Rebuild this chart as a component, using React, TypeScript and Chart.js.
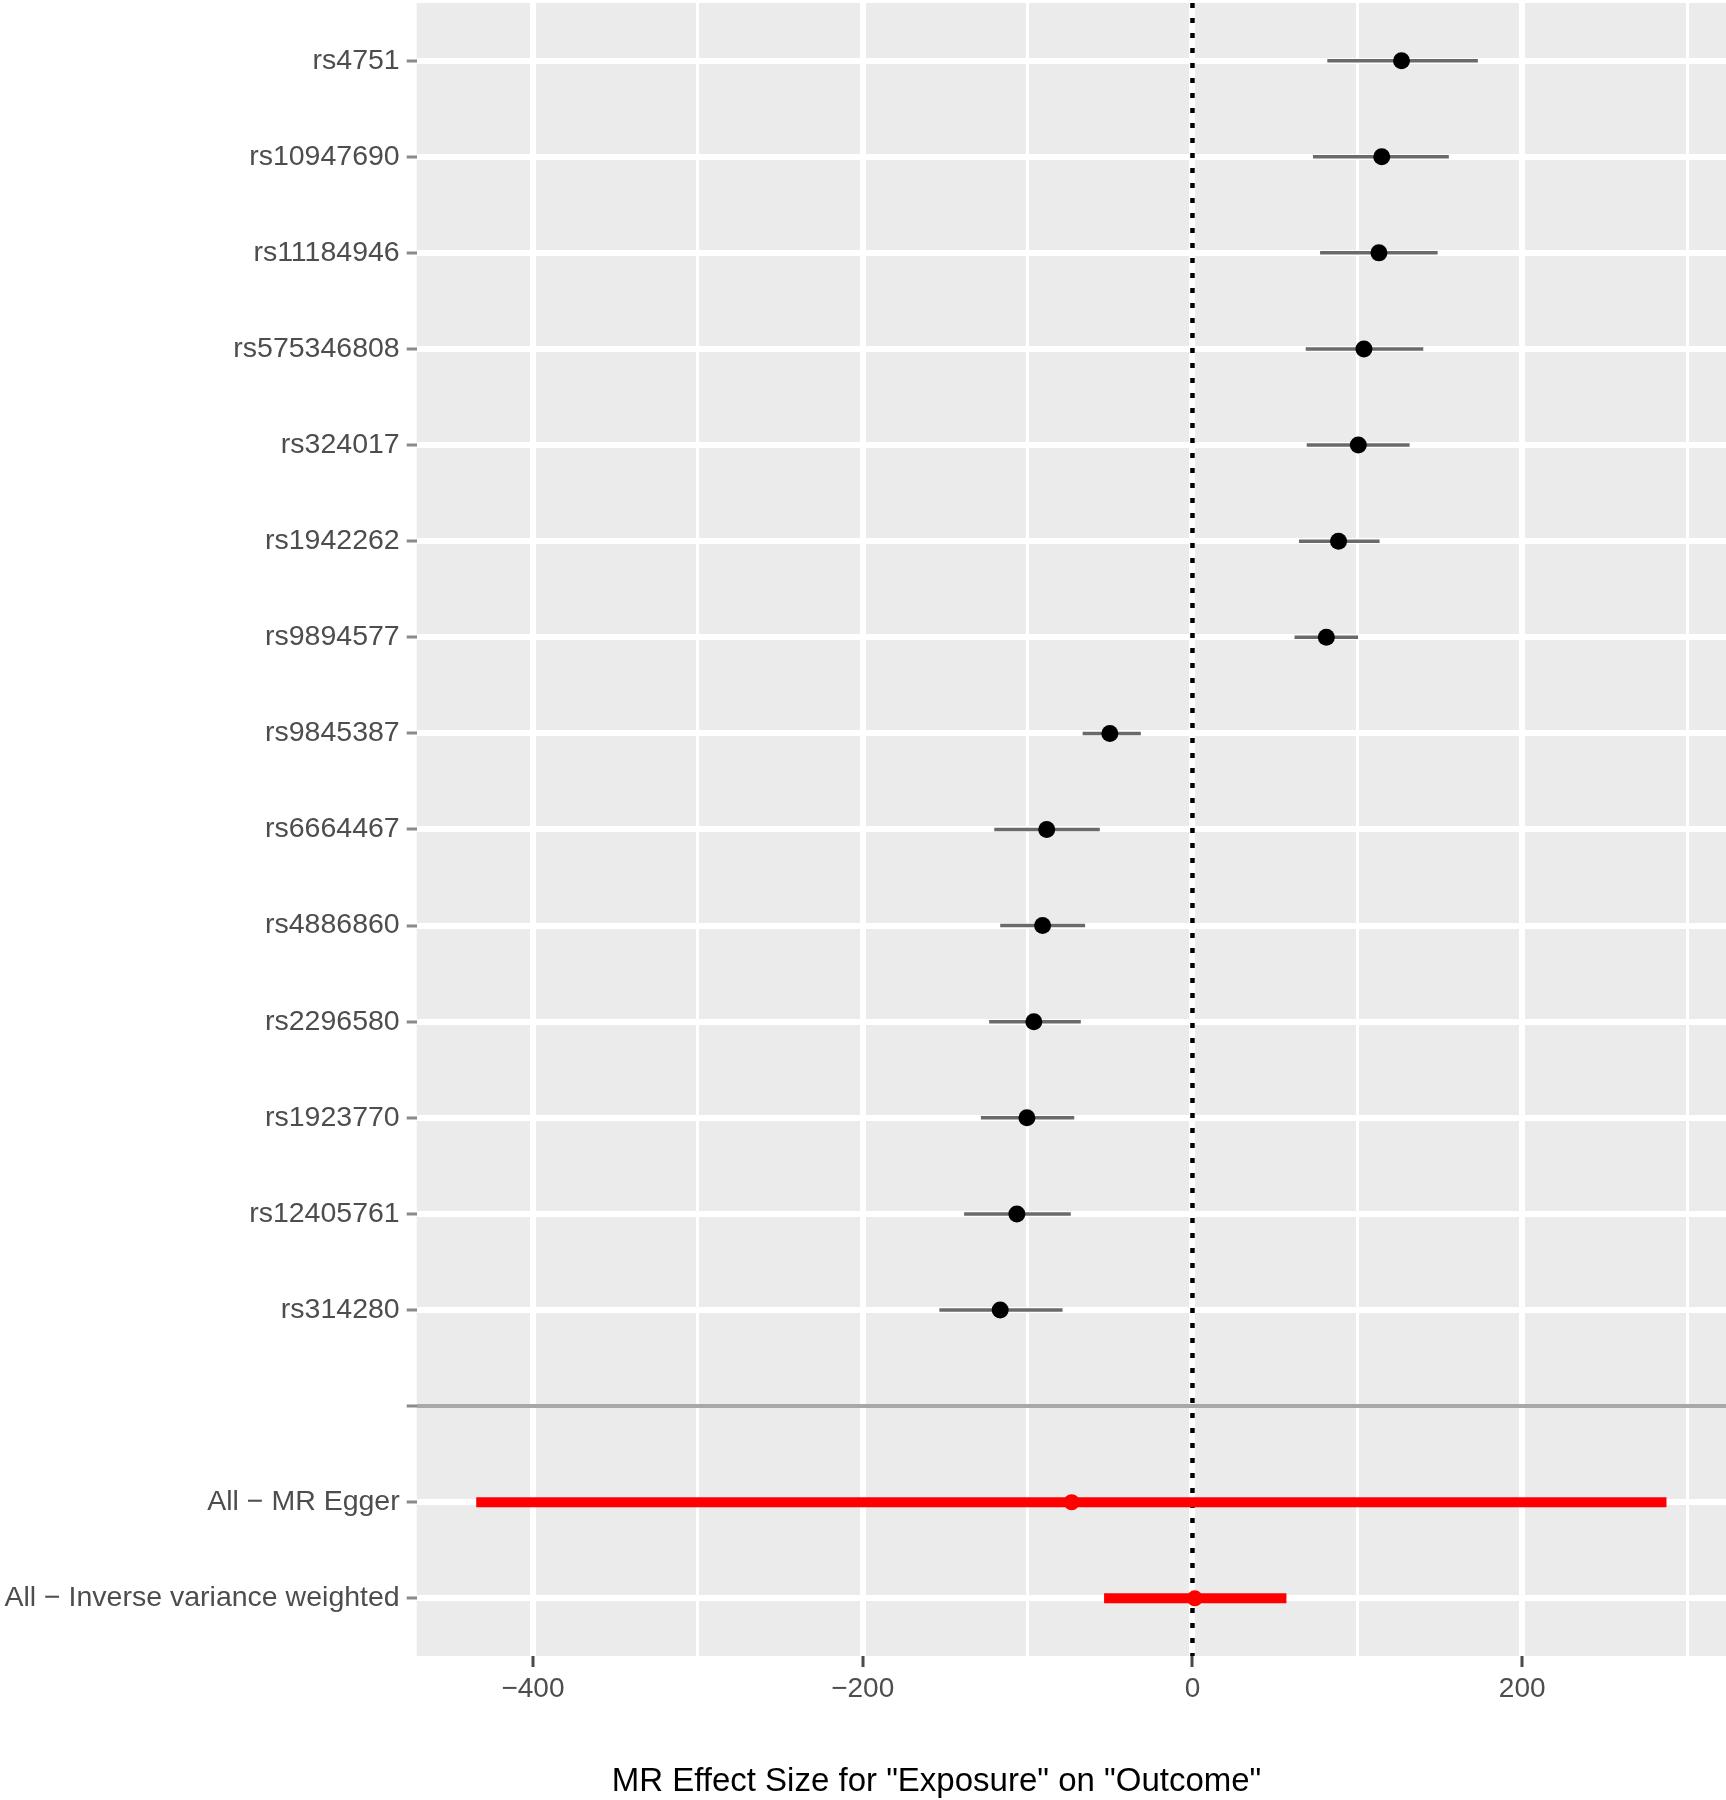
import React, { useEffect, useRef } from "react";
import { Chart, registerables } from "chart.js";

Chart.register(...registerables);

// ---- data ----
const snpNames = [
  "rs4751",
  "rs10947690",
  "rs11184946",
  "rs575346808",
  "rs324017",
  "rs1942262",
  "rs9894577",
  "rs9845387",
  "rs6664467",
  "rs4886860",
  "rs2296580",
  "rs1923770",
  "rs12405761",
  "rs314280",
];
const snpEstimate = [126.8, 114.8, 113.1, 104.0, 100.6, 88.6, 81.2, -50.1, -88.4, -90.9, -96.2, -100.4, -106.5, -116.6];
const snpLower = [81.8, 73.1, 77.4, 68.7, 69.3, 64.6, 61.9, -66.6, -120.2, -116.6, -123.3, -128.3, -138.5, -153.5];
const snpUpper = [173.1, 155.5, 148.7, 140.0, 131.7, 113.5, 100.4, -31.3, -56.2, -65.1, -67.7, -71.7, -73.8, -78.8];

const summaryNames = ["All \u2212 MR Egger", "All \u2212 Inverse variance weighted"];
const summaryEstimate = [-73.3, 1.4];
const summaryLower = [-434.4, -53.6];
const summaryUpper = [287.5, 57.0];

const xTickValues = [-400, -300, -200, -100, 0, 100, 200, 300];
const xTitle = 'MR Effect Size for "Exposure" on "Outcome"';

// rows: SNPs, an empty separator row, then summaries
const rowLabels = [...snpNames, "", ...summaryNames];
const sepIndex = snpNames.length;
const summaryRow0 = sepIndex + 1;

const allLo = Math.min(...snpLower, ...summaryLower);
const allHi = Math.max(...snpUpper, ...summaryUpper);
const xPad = 0.05 * (allHi - allLo);
const xMin = allLo - xPad;
const xMax = allHi + xPad;
const yMin = -0.6;
const yMax = rowLabels.length - 1 + 0.6;

const FONT = '"Liberation Sans", Arial, sans-serif';

const fmt = (v: number) => (v < 0 ? "\u2212" + Math.abs(v) : String(v));

const zeroPadding = (s: any) => {
  s.paddingTop = 0;
  s.paddingBottom = 0;
  s.paddingLeft = 0;
  s.paddingRight = 0;
};

export default function App() {
  const ref = useRef<HTMLCanvasElement | null>(null);

  useEffect(() => {
    if (!ref.current) return;

    const datasets: any[] = [];

    // dotted zero line
    datasets.push({
      data: [
        { x: 0, y: yMin },
        { x: 0, y: yMax },
      ],
      showLine: true,
      borderColor: "#000000",
      borderWidth: 4.5,
      borderDash: [5, 10],
      pointRadius: 0,
      order: 4,
    });

    // SNP error bars
    snpNames.forEach((_, i) => {
      datasets.push({
        data: [
          { x: snpLower[i], y: i },
          { x: snpUpper[i], y: i },
        ],
        showLine: true,
        borderColor: "#6a6a6a",
        borderWidth: 3.5,
        pointRadius: 0,
        order: 3,
      });
    });

    // summary error bars
    summaryNames.forEach((_, i) => {
      datasets.push({
        data: [
          { x: summaryLower[i], y: summaryRow0 + i },
          { x: summaryUpper[i], y: summaryRow0 + i },
        ],
        showLine: true,
        borderColor: "#FF0000",
        borderWidth: 10,
        borderCapStyle: "butt",
        pointRadius: 0,
        order: 3,
      });
    });

    // SNP points
    datasets.push({
      data: snpNames.map((_, i) => ({ x: snpEstimate[i], y: i })),
      showLine: false,
      pointRadius: 8.5,
      pointBackgroundColor: "#000000",
      pointBorderWidth: 0,
      order: 1,
    });

    // summary points
    datasets.push({
      data: summaryNames.map((_, i) => ({ x: summaryEstimate[i], y: summaryRow0 + i })),
      showLine: false,
      pointRadius: 8,
      pointBackgroundColor: "#FF0000",
      pointBorderWidth: 0,
      order: 1,
    });

    const bgPlugin = {
      id: "panelBg",
      beforeDraw(chart: any) {
        const { ctx, chartArea } = chart;
        ctx.save();
        ctx.fillStyle = "#EBEBEB";
        ctx.fillRect(chartArea.left, chartArea.top, chartArea.right - chartArea.left, chartArea.bottom - chartArea.top);
        ctx.restore();
      },
    };

    const titlePlugin = {
      id: "xTitle",
      afterDraw(chart: any) {
        const { ctx } = chart;
        ctx.save();
        ctx.fillStyle = "#000000";
        ctx.font = `33px ${FONT}`;
        ctx.textAlign = "center";
        ctx.textBaseline = "alphabetic";
        ctx.fillText(xTitle, 936.5, 1791);
        ctx.restore();
      },
    };

    const chart = new Chart(ref.current, {
      type: "scatter",
      data: { datasets },
      options: {
        animation: false,
        responsive: false,
        events: [],
        layout: { autoPadding: false, padding: { top: 3, left: 0, right: 0, bottom: 0 } },
        plugins: {
          legend: { display: false },
          tooltip: { enabled: false },
          title: { display: false },
        },
        scales: {
          x: {
            type: "linear",
            min: xMin,
            max: xMax,
            afterBuildTicks: (s: any) => {
              s.ticks = xTickValues.map((v) => ({ value: v }));
            },
            afterFit: (s: any) => {
              s.height = 144;
              zeroPadding(s);
            },
            border: { display: false },
            grid: {
              z: -2,
              color: "#FFFFFF",
              lineWidth: (c: any) => (c.tick && c.tick.value % 200 === 0 ? 6 : 3),
              drawTicks: true,
              tickLength: 11,
              tickWidth: 3,
              tickColor: (c: any) => (c.tick && c.tick.value % 200 === 0 ? "#4a4a4a" : "rgba(0,0,0,0)"),
            },
            ticks: {
              autoSkip: false,
              maxRotation: 0,
              padding: 5,
              color: "#4D4D4D",
              font: { family: FONT, size: 28 },
              callback: (v: any) => (Number(v) % 200 === 0 ? fmt(Number(v)) : ""),
            },
          },
          y: {
            type: "linear",
            reverse: true,
            min: yMin,
            max: yMax,
            afterBuildTicks: (s: any) => {
              s.ticks = rowLabels.map((_, i) => ({ value: i }));
            },
            afterFit: (s: any) => {
              s.width = 416.7;
              zeroPadding(s);
            },
            border: { display: false },
            grid: {
              z: -1,
              color: (c: any) => (c.tick && c.tick.value === sepIndex ? "#A8A8A8" : "#FFFFFF"),
              lineWidth: (c: any) => (c.tick && c.tick.value === sepIndex ? 4 : 6),
              drawTicks: true,
              tickLength: 10,
              tickWidth: 3,
              tickColor: "#8a8a8a",
            },
            ticks: {
              autoSkip: false,
              padding: 7,
              color: "#4D4D4D",
              font: { family: FONT, size: 28.5 },
              callback: (v: any) => rowLabels[Number(v)] ?? "",
            },
          },
        },
      },
      plugins: [bgPlugin, titlePlugin],
    } as any);

    return () => chart.destroy();
  }, []);

  return (
    <div style={{ position: "absolute", left: 0, top: 0, width: 1726, height: 1800, background: "#FFFFFF" }}>
      <canvas ref={ref} width={1726} height={1800} style={{ width: 1726, height: 1800, display: "block" }} />
    </div>
  );
}
